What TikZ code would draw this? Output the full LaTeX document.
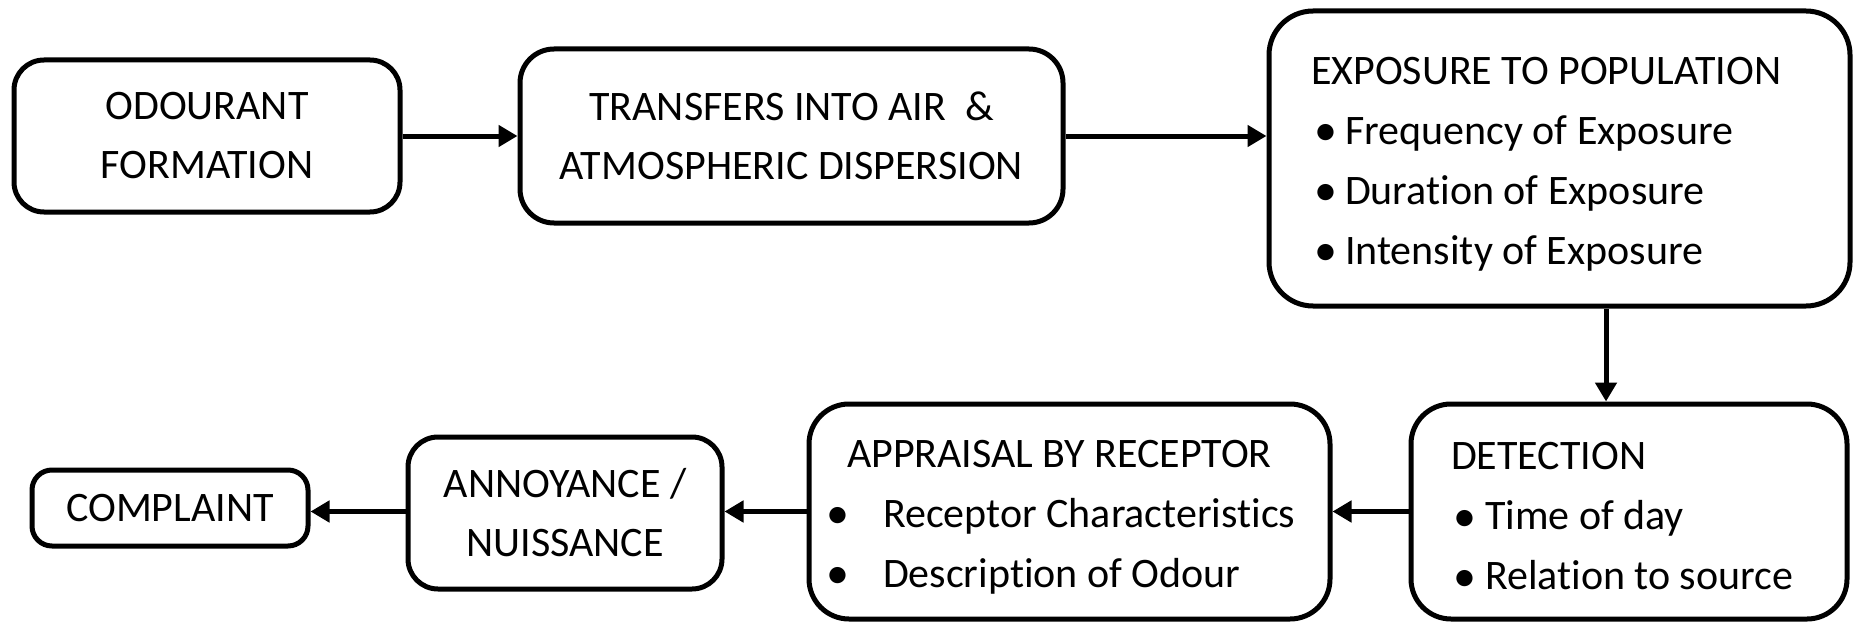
\documentclass[tikz,border=0pt]{standalone}
\usepackage{fontspec}
\setmainfont{Carlito}[RawFeature=-liga]
\usetikzlibrary{arrows.meta}
\tikzset{
  box/.style={draw, line width=2.5pt, rounded corners=15pt, inner sep=0pt,
    font=\fontsize{21}{29.5}\selectfont, align=center},
  listbox/.style={box, align=flush left, font=\fontsize{21}{30}\selectfont},
  flow/.style={line width=2.5pt, -{Triangle[width=10.5pt,length=9.5pt]}}
}
\newcommand{\bul}[2]{\makebox[#1][l]{\raisebox{-0.8pt}{\fontsize{23}{23}\selectfont •}}#2}
\newcommand{\lowtop}{\rule{0pt}{19pt}}
\begin{document}
\begin{tikzpicture}[x=0.5pt,y=-0.5pt]
\useasboundingbox (0,0) rectangle (1856,626);
% top row
\node[box, minimum width=193pt, minimum height=76pt] (b1) at (207,136) {ODOURANT\\FORMATION};
\node[box, minimum width=271.5pt, minimum height=87pt, rounded corners=17pt] (b2) at (791.5,136) {TRANSFERS INTO AIR~~\&\\ATMOSPHERIC DISPERSION};
\node[listbox, minimum width=290.5pt, minimum height=147.5pt, rounded corners=22pt,
  inner xsep=21pt, text width=248.5pt] (b3) at (1559.5,158.5)
  {\lowtop EXPOSURE TO POPULATION\\
   \hspace*{1.5pt}\bul{15.5pt}{Frequency of Exposure}\\
   \hspace*{1.5pt}\bul{15.5pt}{Duration of Exposure}\\
   \hspace*{1.5pt}\bul{15.5pt}{Intensity of Exposure}};
% bottom row
\node[listbox, minimum width=218pt, minimum height=107.5pt, rounded corners=20pt,
  inner xsep=20pt, text width=178pt] (b4) at (1629,511.5)
  {\lowtop DETECTION\\
   \hspace*{1pt}\bul{16pt}{Time of day}\\
   \hspace*{1pt}\bul{16pt}{Relation to source}};
\node[listbox, minimum width=260.5pt, minimum height=107.5pt, rounded corners=20pt,
  inner xsep=8.5pt, text width=243.5pt] (b5) at (1069.5,511.5)
  {\lowtop\hspace*{10.5pt}APPRAISAL BY RECEPTOR\\
   \bul{28.5pt}{Receptor Characteristics}\\
   \bul{28.5pt}{Description of Odour}};
\node[box, minimum width=157pt, minimum height=76pt] (b6) at (565,513) {ANNOYANCE /\\NUISSANCE};
\node[box, minimum width=138pt, minimum height=38pt, rounded corners=10pt] (b7) at (170,508) {COMPLAINT};
% connectors
\coordinate (down) at (1606,0);
\draw[flow] (b1) -- (b2);
\draw[flow] (b2.east) -- (b2.east -| b3.west);
\draw[flow] (b3.south -| down) -- (b4.north -| down);
\draw[flow] (b4.west) -- (b5.east);
\draw[flow] (b5.west) -- (b5.west -| b6.east);
\draw[flow] (b6.west |- b5.west) -- (b5.west -| b7.east);
\end{tikzpicture}
\end{document}
